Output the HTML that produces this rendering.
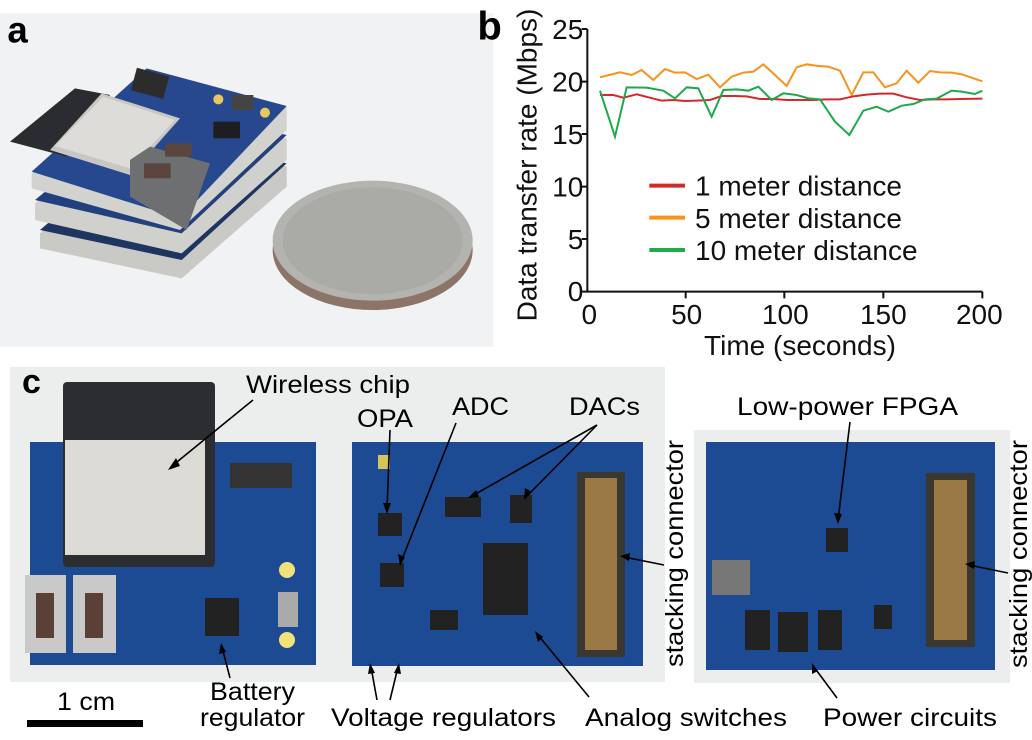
<!DOCTYPE html>
<html><head><meta charset="utf-8"><style>
html,body{margin:0;padding:0;background:#fff;}
svg{position:absolute;left:0;top:0;}
</style></head><body>
<div style="position:relative;width:1032px;height:740px;overflow:hidden;background:#fff">
<!-- Panel a -->
<svg width="500" height="370" viewBox="0 0 1500 1110">
<rect x="0" y="40" width="1480" height="1000" fill="#f1f2f3"/>
<text x="22" y="128" font-family="Liberation Sans" font-weight="bold" font-size="110">a</text>
<polygon points="120,700 460,410 860,500 860,560 545,835 120,745" fill="#c9c9c6"/>
<polygon points="120,690 460,400 860,490 545,780" fill="#1d3560"/>
<polygon points="105,610 450,325 860,415 860,480 545,760 105,660" fill="#d0d0cc"/>
<polygon points="105,600 450,315 860,405 545,700" fill="#223f7e"/>
<polygon points="95,520 440,210 860,320 860,390 540,690 95,565" fill="#d2d2ce"/>
<polygon points="95,515 440,205 860,318 540,655" fill="#27488e"/>
<polygon points="30,425 225,265 330,285 200,470" fill="#2a2c30"/>
<polygon points="150,450 305,280 540,355 390,525" fill="#c8c7c3"/>
<polygon points="165,438 310,290 525,360 390,505" fill="#dddcd8"/>
<polygon points="390,480 450,440 630,490 560,690 390,590" fill="#6e6f71"/>
<rect x="495" y="430" width="80" height="40" fill="#5a463f"/>
<rect x="432" y="490" width="80" height="45" fill="#5a463f"/>
<rect x="640" y="365" width="80" height="50" fill="#1e1e22"/>
<rect x="695" y="285" width="65" height="45" fill="#444"/>
<rect x="400" y="215" width="100" height="70" fill="#2c2c2c" transform="rotate(15 450 250)"/>
<circle cx="655" cy="298" r="15" fill="#e8c760"/><circle cx="795" cy="338" r="15" fill="#e8c760"/>
<ellipse cx="1118" cy="750" rx="300" ry="180" fill="#8c7466"/>
<ellipse cx="1118" cy="722" rx="300" ry="180" fill="#b3b3b0"/>
<ellipse cx="1118" cy="722" rx="270" ry="160" fill="#aaaaa7"/>
</svg>

<!-- Panel b -->
<svg width="532" height="370" viewBox="0 0 1596 1110" style="left:500px;overflow:visible">
<text x="-68" y="118" font-family="Liberation Sans" font-weight="bold" font-size="120">b</text>
<g font-family="Liberation Sans" font-size="84" fill="#111">
<path d="M262 87 V875 H1447" stroke="#111" stroke-width="6" fill="none"/>
<path d="M245 87H262M245 245H262M245 402H262M245 560H262M245 717H262M245 875H262M557 875V895M853 875V895M1150 875V895M1447 875V895" stroke="#111" stroke-width="6"/>
<g text-anchor="end"><text x="250" y="117">25</text><text x="250" y="275">20</text><text x="250" y="432">15</text><text x="250" y="590">10</text><text x="250" y="747">5</text><text x="250" y="903">0</text></g>
<g text-anchor="middle"><text x="268" y="972">0</text><text x="560" y="972">50</text><text x="856" y="972">100</text><text x="1150" y="972">150</text><text x="1438" y="972">200</text>
<text x="900" y="1065">Time (seconds)</text>
<text transform="translate(110,495) rotate(-90)">Data transfer rate (Mbps)</text></g>
<polyline fill="none" stroke="#f7931e" stroke-width="6" points="300,232 340,222 360,217 395,225 425,210 460,240 495,207 525,218 555,217 590,237 625,224 660,262 695,230 730,218 760,215 790,193 825,225 860,258 890,202 920,193 955,198 985,200 1020,212 1055,285 1090,217 1120,217 1155,262 1190,250 1220,212 1255,248 1290,213 1320,217 1355,218 1385,223 1415,233 1447,244"/>
<polyline fill="none" stroke="#d12a2a" stroke-width="6" points="300,285 340,285 370,293 410,283 445,292 485,302 520,300 555,303 590,302 630,300 665,288 700,288 740,289 780,297 820,297 860,300 900,300 940,300 980,298 1020,298 1060,289 1100,284 1140,281 1180,281 1220,292 1260,300 1300,298 1340,298 1380,297 1447,296"/>
<polyline fill="none" stroke="#1ea94a" stroke-width="6" points="300,272 345,410 380,262 440,263 490,272 525,295 560,262 595,265 635,350 670,270 710,268 745,272 775,260 815,300 850,280 890,285 925,295 960,298 1005,365 1048,405 1090,332 1130,320 1165,335 1205,317 1240,312 1275,298 1310,296 1355,272 1385,275 1425,282 1447,272"/>
<path d="M448 557H555" stroke="#d12a2a" stroke-width="12"/>
<path d="M448 653H555" stroke="#f7931e" stroke-width="12"/>
<path d="M448 750H555" stroke="#1ea94a" stroke-width="12"/>
<text x="585" y="587">1 meter distance</text>
<text x="585" y="684">5 meter distance</text>
<text x="585" y="780">10 meter distance</text>
</g>
</svg>

<!-- Panel c -->
<svg width="1032" height="740" viewBox="0 0 1032 740" style="top:0">
<rect x="10" y="367" width="655" height="315" fill="#eceeed"/>
<rect x="694" y="430" width="316" height="253" fill="#eceeed"/>
<text x="22" y="393" font-family="Liberation Sans" font-weight="bold" font-size="34">c</text>
<rect x="30" y="442" width="286" height="223" fill="#1c4b93"/>
<rect x="63" y="382" width="152" height="185" fill="#2b2d31" rx="4"/>
<rect x="65" y="440" width="140" height="115" fill="#dcdbd6"/>
<rect x="25" y="575" width="41" height="78" fill="#c9c9c9"/>
<rect x="73" y="575" width="43" height="78" fill="#c9c9c9"/>
<rect x="36" y="593" width="18" height="45" fill="#5b4038"/>
<rect x="85" y="593" width="18" height="45" fill="#5b4038"/>
<rect x="230" y="463" width="62" height="25" fill="#333"/>
<rect x="205" y="598" width="34" height="38" fill="#222"/>
<rect x="278" y="592" width="20" height="35" fill="#aaa"/>
<circle cx="287" cy="570" r="8" fill="#f2e27a"/><circle cx="287" cy="640" r="8" fill="#f2e27a"/>
<rect x="352" y="442" width="291" height="224" fill="#1c4b93"/>
<rect x="577" y="472" width="48" height="185" fill="#3a3630"/>
<rect x="585" y="478" width="32" height="172" fill="#b48b4a" opacity="0.8"/>
<rect x="483" y="543" width="45" height="72" fill="#222"/>
<rect x="378" y="513" width="24" height="23" fill="#222"/>
<rect x="380" y="563" width="24" height="24" fill="#222"/>
<rect x="445" y="497" width="36" height="20" fill="#222"/>
<rect x="510" y="495" width="22" height="28" fill="#222"/>
<rect x="430" y="610" width="28" height="20" fill="#222"/>
<rect x="378" y="455" width="12" height="14" fill="#d8c25a"/>
<rect x="706" y="442" width="289" height="228" fill="#1c4b93"/>
<rect x="926" y="473" width="49" height="174" fill="#3a3630"/>
<rect x="934" y="480" width="33" height="160" fill="#b48b4a" opacity="0.8"/>
<rect x="826" y="528" width="22" height="24" fill="#222"/>
<rect x="712" y="560" width="38" height="35" fill="#777"/>
<rect x="745" y="610" width="25" height="40" fill="#222"/>
<rect x="778" y="612" width="30" height="40" fill="#222"/>
<rect x="818" y="610" width="24" height="40" fill="#222"/>
<rect x="874" y="605" width="18" height="24" fill="#222"/>
<g stroke="#000" stroke-width="1.6" fill="none">
<path d="M253 400L172 466"/><path d="M390 430L387 510"/><path d="M456 423L401 562"/>
<path d="M597 425L472 496"/><path d="M597 425L527 496"/><path d="M850 422L838 520"/>
<path d="M664 565L624 557"/><path d="M1008 573L969 565"/><path d="M230 678L222 647"/>
<path d="M377 700L371 667"/><path d="M390 700L398 667"/><path d="M589 697L538 635"/><path d="M837 698L814 667"/>
</g>
<g fill="#000">
<polygon points="168,470 176,458 180,466"/><polygon points="387,514 383,503 391,503"/><polygon points="400,566 398,554 405,557"/>
<polygon points="468,498 476,490 479,497"/><polygon points="524,500 525,488 532,492"/><polygon points="838,524 834,513 842,514"/>
<polygon points="620,556 630,553 629,561"/><polygon points="965,564 975,561 974,569"/><polygon points="221,643 219,654 226,652"/>
<polygon points="370,663 368,674 375,673"/><polygon points="399,663 394,673 401,674"/><polygon points="535,631 538,642 543,637"/><polygon points="812,663 812,674 818,671"/>
</g>
<g font-family="Liberation Sans, sans-serif" font-size="25" fill="#000">
<text x="246" y="393" textLength="164" lengthAdjust="spacingAndGlyphs">Wireless chip</text>
<text x="357" y="427" textLength="56" lengthAdjust="spacingAndGlyphs">OPA</text>
<text x="452" y="415" textLength="57" lengthAdjust="spacingAndGlyphs">ADC</text>
<text x="569" y="415" textLength="71" lengthAdjust="spacingAndGlyphs">DACs</text>
<text x="737" y="415" textLength="221" lengthAdjust="spacingAndGlyphs">Low-power FPGA</text>
<text x="210" y="700" textLength="85" lengthAdjust="spacingAndGlyphs">Battery</text>
<text x="200" y="726" textLength="105" lengthAdjust="spacingAndGlyphs">regulator</text>
<text x="331" y="726" textLength="225" lengthAdjust="spacingAndGlyphs">Voltage regulators</text>
<text x="585" y="726" textLength="202" lengthAdjust="spacingAndGlyphs">Analog switches</text>
<text x="823" y="726" textLength="174" lengthAdjust="spacingAndGlyphs">Power circuits</text>
<text x="57" y="710" textLength="58" lengthAdjust="spacingAndGlyphs">1 cm</text>
<text transform="translate(683,667) rotate(-90)" textLength="227" lengthAdjust="spacingAndGlyphs">stacking connector</text>
<text transform="translate(1027,668) rotate(-90)" textLength="228" lengthAdjust="spacingAndGlyphs">stacking connector</text>
</g>
<rect x="27" y="720" width="116" height="7" fill="#000"/>
</svg>
</div>
</body></html>
